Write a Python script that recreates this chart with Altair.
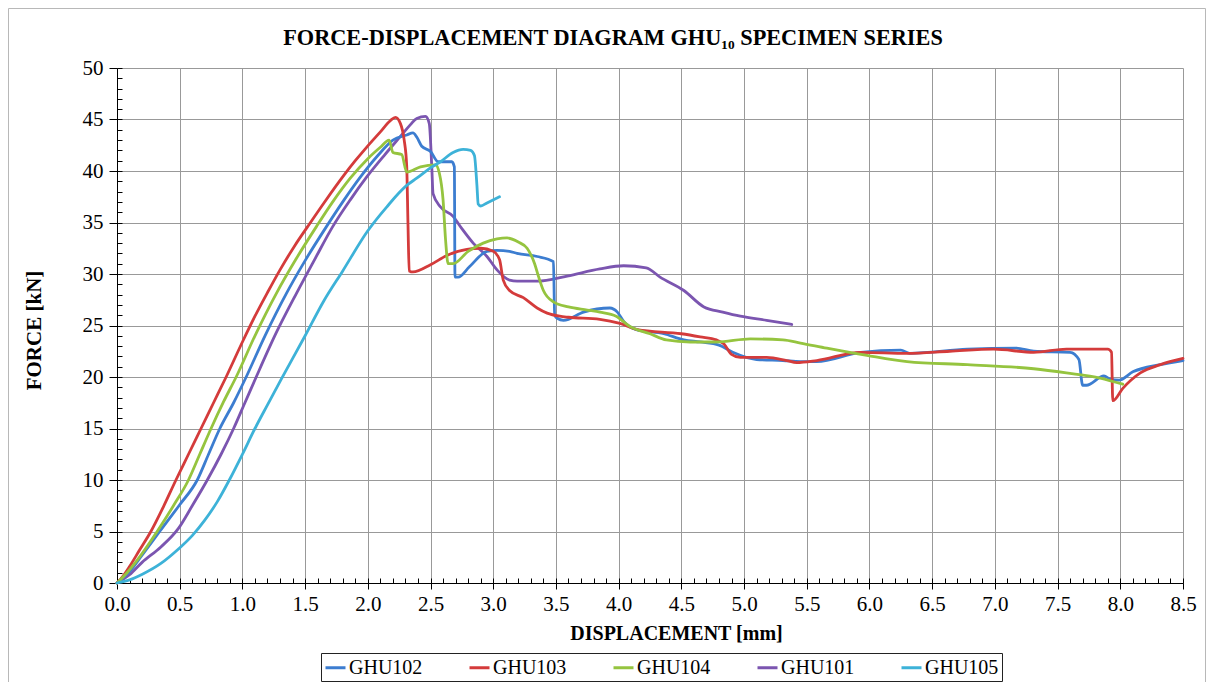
import altair as alt
import pandas as pd

SERIES = ["GHU102", "GHU103", "GHU104", "GHU101", "GHU105"]
COLORS = ["#3C7DD0", "#D43B3B", "#95C43F", "#7B55B0", "#3DB2D8"]

GHU102 = [(0, 0), (0.1, 1.1), (0.2, 2.7), (0.34, 5.0), (0.5, 7.6), (0.64, 10.0), (0.73, 12.5),
          (0.82, 15.0), (0.93, 17.5), (1.03, 20.0), (1.18, 24.0), (1.35, 28.1), (1.5, 31.3),
          (1.67, 34.6), (1.8, 37.0), (1.94, 39.4), (2.08, 41.5), (2.2, 43.0), (2.31, 43.5),
          (2.36, 43.7), (2.39, 43.3), (2.43, 42.4), (2.5, 41.9), (2.56, 40.9), (2.67, 40.9),
          (2.69, 40.4), (2.695, 29.7), (2.72, 29.7), (2.81, 30.7), (2.95, 32.2), (3.03, 32.3),
          (3.13, 32.2), (3.19, 32.0), (3.35, 31.7), (3.48, 31.2), (3.49, 26.0), (3.51, 25.7),
          (3.56, 25.5), (3.72, 26.3), (3.93, 26.7), (3.99, 26.3), (4.04, 25.4), (4.14, 24.6),
          (4.36, 24.2), (4.52, 23.6), (4.65, 23.4), (4.8, 23.1), (4.91, 22.4), (5.1, 21.7),
          (5.31, 21.6), (5.45, 21.5), (5.58, 21.5), (5.93, 22.4), (6.25, 22.6), (6.32, 22.3),
          (6.78, 22.7), (7.17, 22.8), (7.31, 22.5), (7.6, 22.4), (7.67, 21.7), (7.7, 19.2),
          (7.73, 19.2), (7.87, 20.1), (7.92, 19.8), (7.99, 19.7), (8.1, 20.5), (8.32, 21.2),
          (8.5, 21.6)]

GHU103 = [(0, 0), (0.05, 0.7), (0.1, 1.6), (0.18, 3.2), (0.27, 5.0), (0.37, 7.4), (0.47, 10.0),
          (0.57, 12.5), (0.67, 15.0), (0.77, 17.5), (0.87, 20.0), (1.0, 23.4), (1.1, 25.9),
          (1.2, 28.2), (1.3, 30.4), (1.42, 32.8), (1.52, 34.6), (1.65, 36.9), (1.81, 39.6),
          (1.9, 41.0), (1.99, 42.3), (2.1, 43.8), (2.18, 44.9), (2.22, 45.2), (2.26, 44.6),
          (2.29, 43.0), (2.31, 40.5), (2.32, 35.0), (2.33, 30.3), (2.36, 30.2), (2.5, 30.9),
          (2.63, 31.8), (2.79, 32.4), (2.9, 32.5), (3.0, 32.2), (3.05, 31.4), (3.08, 29.4),
          (3.13, 28.4), (3.24, 27.7), (3.35, 26.7), (3.43, 26.2), (3.53, 25.9), (3.6, 25.8),
          (3.85, 25.6), (4.01, 25.2), (4.15, 24.6), (4.5, 24.2), (4.65, 23.9), (4.78, 23.6),
          (4.84, 23.2), (4.9, 22.2), (4.97, 21.9), (5.18, 21.9), (5.34, 21.6), (5.42, 21.4),
          (5.58, 21.6), (5.93, 22.4), (6.3, 22.3), (6.64, 22.5), (6.99, 22.7), (7.31, 22.4),
          (7.57, 22.7), (7.9, 22.7), (7.93, 22.4), (7.94, 17.7), (8.02, 18.9), (8.16, 20.4),
          (8.32, 21.2), (8.5, 21.8)]

GHU104 = [(0, 0), (0.08, 1.0), (0.16, 2.2), (0.32, 5.0), (0.45, 7.5), (0.57, 10.0), (0.66, 12.5),
          (0.75, 15.0), (0.85, 17.6), (0.95, 20.0), (1.1, 24.0), (1.27, 28.1), (1.43, 31.5),
          (1.59, 34.6), (1.72, 37.0), (1.86, 39.3), (2.0, 41.2), (2.1, 42.3), (2.17, 43.0),
          (2.2, 41.8), (2.27, 41.6), (2.31, 39.9), (2.42, 40.4), (2.54, 40.6), (2.57, 39.8),
          (2.6, 37.2), (2.62, 33.3), (2.64, 31.0), (2.68, 31.0), (2.8, 32.2), (2.92, 33.0),
          (3.03, 33.4), (3.11, 33.5), (3.2, 33.1), (3.27, 32.5), (3.33, 31.0), (3.36, 29.8),
          (3.4, 28.4), (3.48, 27.3), (3.6, 26.8), (3.75, 26.5), (3.85, 26.3), (3.98, 25.9),
          (4.09, 24.9), (4.25, 24.2), (4.38, 23.6), (4.57, 23.4), (4.78, 23.4), (5.05, 23.7),
          (5.31, 23.6), (5.45, 23.3), (5.66, 22.8), (5.98, 22.1), (6.3, 21.5), (6.78, 21.2),
          (7.31, 20.8), (7.57, 20.4), (7.84, 19.9), (8.02, 19.3)]

GHU101 = [(0, 0), (0.1, 0.8), (0.2, 2.0), (0.35, 3.5), (0.49, 5.3), (0.6, 7.5), (0.72, 10.0),
          (0.83, 12.5), (0.93, 15.0), (1.02, 17.5), (1.11, 20.0), (1.27, 24.3), (1.43, 28.1),
          (1.58, 31.5), (1.72, 34.6), (1.86, 37.2), (1.99, 39.4), (2.13, 41.5), (2.27, 43.5),
          (2.34, 44.5), (2.39, 45.1), (2.46, 45.3), (2.49, 44.6), (2.51, 40.4), (2.52, 37.8),
          (2.58, 36.5), (2.68, 35.6), (2.75, 34.4), (2.84, 33.0), (2.95, 31.7), (3.03, 30.4),
          (3.13, 29.4), (3.19, 29.3), (3.35, 29.3), (3.59, 29.8), (3.85, 30.5), (4.04, 30.8),
          (4.22, 30.6), (4.33, 29.7), (4.52, 28.4), (4.68, 26.8), (4.83, 26.3), (4.97, 25.9),
          (5.18, 25.5), (5.38, 25.1)]

GHU105 = [(0, 0), (0.1, 0.3), (0.21, 0.9), (0.35, 1.9), (0.49, 3.3), (0.6, 4.6), (0.7, 6.1),
          (0.8, 7.9), (0.9, 10.1), (1.0, 12.5), (1.1, 15.0), (1.2, 17.3), (1.31, 19.8),
          (1.5, 24.0), (1.65, 27.4), (1.8, 30.3), (2.0, 34.2), (2.15, 36.5), (2.31, 38.6),
          (2.39, 39.3), (2.5, 40.3), (2.58, 40.9), (2.68, 41.8), (2.76, 42.1), (2.82, 42.0),
          (2.85, 41.5), (2.87, 38.6), (2.88, 36.8), (2.9, 36.6), (2.95, 36.9), (3.05, 37.5)]

X_MAJOR = [round(0.5 * k, 1) for k in range(18)]
X_MINOR = [round(0.1 * k, 1) for k in range(86)]
Y_MAJOR = list(range(0, 51, 5))
Y_MINOR = list(range(0, 51))

rows = []
for name, pts in [("GHU101", GHU101), ("GHU102", GHU102), ("GHU103", GHU103),
                  ("GHU104", GHU104), ("GHU105", GHU105)]:
    for i, (x, y) in enumerate(pts):
        rows.append({"series": name, "disp": x, "force": y, "i": i})
df = pd.DataFrame(rows)

FONT = "Liberation Serif"
W, H = 1066, 515
GRID = "#999999"

xscale = alt.Scale(domain=[0, 8.5], nice=False, zero=False)
yscale = alt.Scale(domain=[0, 50], nice=False, zero=False)

x_major = alt.Axis(orient="bottom", values=X_MAJOR, format=".1f", title="DISPLACEMENT [mm]",
                   grid=True, gridColor=GRID, gridWidth=1, tickSize=6, tickColor="#000",
                   domainColor="#000", domainWidth=1, labelFont=FONT, labelFontSize=21,
                   labelColor="#000", labelPadding=4, labelFlush=False, titleFont=FONT,
                   titleFontSize=20, titleFontWeight="bold", titleColor="#000",
                   titlePadding=9, titleX=559)
y_major = alt.Axis(orient="left", values=Y_MAJOR, format="d", title="FORCE [kN]",
                   grid=True, gridColor=GRID, gridWidth=1, tickSize=8, tickColor="#000",
                   domainColor="#000", domainWidth=1, labelFont=FONT, labelFontSize=21,
                   labelColor="#000", labelPadding=6, labelFlush=False, titleFont=FONT,
                   titleFontSize=21, titleFontWeight="bold", titleColor="#000",
                   titlePadding=38, titleY=262)
x_minor = alt.Axis(orient="top", offset=-H, values=X_MINOR, labels=False, domain=False,
                   grid=False, ticks=True, tickSize=5, tickColor="#000", title="")
y_minor = alt.Axis(orient="right", offset=-W, values=Y_MINOR, labels=False, domain=False,
                   grid=False, ticks=True, tickSize=5, tickColor="#000", title="")

legend = alt.Legend(orient="none", legendX=204, legendY=585, direction="horizontal",
                    columns=5, title=None, symbolType="stroke", symbolSize=400,
                    symbolStrokeWidth=3, labelFont=FONT, labelFontSize=20, labelColor="#000",
                    labelOffset=2, columnPadding=40, strokeColor="#222", padding=3)

lines = alt.Chart(df).mark_line(strokeWidth=2.8, strokeJoin="round", strokeCap="round",
                                interpolate="monotone").encode(
    x=alt.X("disp:Q", scale=xscale, axis=x_major),
    y=alt.Y("force:Q", scale=yscale, axis=y_major),
    color=alt.Color("series:N", scale=alt.Scale(domain=SERIES, range=COLORS), legend=legend),
    order=alt.Order("i:Q"),
)

minor = alt.Chart(df).mark_point(opacity=0, size=1).encode(
    x=alt.X("disp:Q", scale=xscale, axis=x_minor),
    y=alt.Y("force:Q", scale=yscale, axis=y_minor),
)

frame = alt.Chart(pd.DataFrame({"k": [0]})).mark_rect(
    fillOpacity=0, stroke="#b8b8b8", strokeWidth=1
).encode(
    x=alt.value(-108.5), x2=alt.value(W + 22.5), y=alt.value(-59.5), y2=alt.value(H + 110)
)

chart = alt.layer(frame, lines, minor).resolve_axis(x="independent", y="independent").properties(
    width=W, height=H,
    title=alt.TitleParams("FORCE-DISPLACEMENT DIAGRAM GHU₁₀ SPECIMEN SERIES", font=FONT,
                          fontSize=22.3, fontWeight="bold", color="#000", anchor="middle",
                          offset=-41, dx=-37),
    padding={"left": 109, "top": 60, "right": 23, "bottom": 99},
    autosize=alt.AutoSizeParams(type="none"),
).configure(font=FONT).configure_view(stroke=None)

chart.save("out.html", embed_options={"renderer": "svg", "actions": False})
